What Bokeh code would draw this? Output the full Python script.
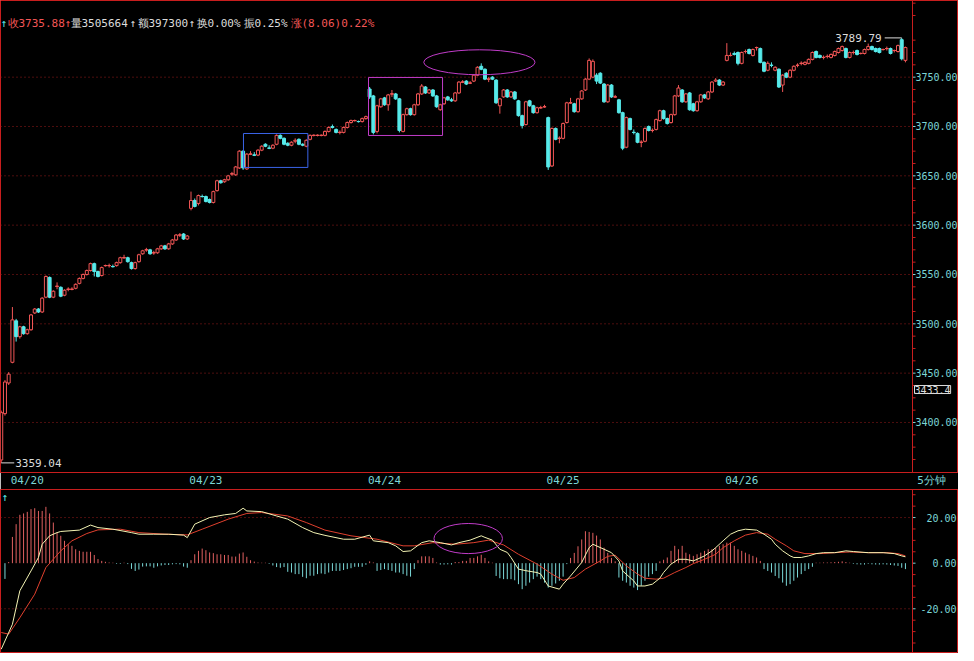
import numpy as np
from bokeh.plotting import figure
from bokeh.layouts import column
from bokeh.models import ColumnDataSource, Range1d, Span, Label, FixedTicker
from bokeh.embed import file_html
from bokeh.resources import INLINE
from bokeh.core.properties import value

# ------------------------------------------------------------------ data
opens = [
    3362, 3409, 3440, 3461, 3503, 3487, 3497, 3490, 3494, 3511,
    3515, 3512, 3527, 3547, 3527, 3538, 3537, 3529, 3535, 3535,
    3536, 3541, 3546, 3550, 3554, 3561, 3553, 3549, 3559, 3559,
    3558, 3559, 3562, 3567, 3567, 3562, 3556, 3563, 3571, 3575,
    3575, 3572, 3572, 3576, 3579, 3576, 3581, 3585, 3590, 3591, 3586,
    3617, 3625, 3622, 3629, 3629, 3626, 3623, 3635, 3645, 3644,
    3646, 3652, 3651, 3658, 3675, 3657, 3672, 3671, 3671, 3676,
    3682, 3678, 3678, 3682, 3691, 3688, 3683, 3681, 3685, 3687,
    3682, 3680, 3687, 3691, 3691, 3691, 3691, 3695, 3700, 3697,
    3694, 3694, 3699, 3704, 3706, 3705, 3705, 3708,
    3738, 3731, 3695, 3720, 3729, 3722, 3733, 3733, 3728, 3695,
    3712, 3718, 3712, 3722, 3733, 3740, 3734, 3737, 3731, 3717,
    3723, 3730, 3727, 3726, 3734, 3745, 3746, 3744, 3746, 3752,
    3761, 3758, 3748, 3750, 3747, 3721, 3730, 3737, 3730, 3735,
    3726, 3711, 3702, 3726, 3721, 3714, 3719, 3720,
    3709, 3660, 3698, 3688, 3688, 3704, 3724, 3723, 3715, 3728,
    3737, 3748, 3750, 3752, 3754, 3743, 3725, 3742, 3730, 3727,
    3714, 3679, 3708, 3694, 3693, 3684, 3685, 3700, 3696, 3697,
    3706, 3716, 3708, 3704, 3712, 3731, 3737, 3725, 3734, 3723,
    3716, 3725, 3732, 3728, 3735, 3746, 3747, 3742,
    3767, 3772, 3774, 3775, 3764, 3776, 3778, 3772, 3780, 3779,
    3765, 3757, 3762, 3757, 3758, 3742, 3754, 3750, 3757, 3762,
    3764, 3763, 3764, 3768, 3776, 3772, 3770, 3771, 3770, 3772,
    3775, 3777, 3779, 3770, 3775, 3777, 3774, 3774, 3778, 3781,
    3779, 3779, 3778, 3779, 3779, 3777, 3776, 3788, 3767,
]
highs = [
    3412, 3443, 3451, 3517, 3505, 3498, 3498, 3495, 3510, 3516,
    3516, 3527, 3549, 3548, 3534, 3542, 3538, 3535, 3537, 3537,
    3541, 3547, 3551, 3555, 3562, 3562, 3554, 3558, 3560, 3561,
    3560, 3563, 3568, 3570, 3568, 3563, 3563, 3571, 3575, 3577,
    3576, 3574, 3577, 3580, 3580, 3582, 3586, 3591, 3592, 3592, 3590,
    3634, 3627, 3631, 3631, 3630, 3627, 3635, 3646, 3646, 3647,
    3651, 3654, 3660, 3676, 3676, 3673, 3675, 3674, 3677, 3681,
    3683, 3681, 3682, 3692, 3692, 3689, 3684, 3685, 3688, 3688,
    3683, 3687, 3692, 3692, 3692, 3692, 3696, 3700, 3702, 3698,
    3696, 3700, 3705, 3707, 3707, 3706, 3709, 3711,
    3740, 3732, 3722, 3729, 3730, 3733, 3737, 3734, 3729, 3713,
    3719, 3719, 3723, 3734, 3743, 3741, 3738, 3738, 3732, 3723,
    3730, 3731, 3729, 3735, 3746, 3747, 3747, 3746, 3753, 3761,
    3764, 3759, 3750, 3751, 3748, 3729, 3738, 3738, 3736, 3736,
    3727, 3712, 3726, 3727, 3722, 3720, 3721, 3722,
    3710, 3699, 3699, 3690, 3704, 3725, 3729, 3724, 3729, 3737,
    3749, 3769, 3768, 3754, 3755, 3744, 3743, 3743, 3732, 3728,
    3715, 3710, 3709, 3697, 3694, 3686, 3699, 3701, 3698, 3708,
    3717, 3717, 3709, 3713, 3732, 3742, 3738, 3734, 3735, 3724,
    3726, 3733, 3733, 3736, 3746, 3749, 3748, 3746,
    3784.5, 3775, 3776, 3776, 3776, 3778, 3779, 3779, 3781, 3780,
    3766, 3766, 3765, 3761, 3759, 3753, 3755, 3758, 3762, 3764,
    3766, 3766, 3769, 3776, 3777, 3773, 3772, 3773, 3774, 3777,
    3780, 3782, 3780, 3776, 3777, 3778, 3775, 3779, 3784, 3782,
    3780, 3780, 3779, 3781, 3780, 3778, 3783, 3789.79, 3781,
]
lows = [
    3359.04, 3407, 3438, 3460, 3482, 3485, 3489, 3489, 3493, 3510,
    3511, 3511, 3526, 3526, 3526, 3535, 3527, 3528, 3533, 3534,
    3535, 3540, 3545, 3549, 3553, 3548, 3547, 3548, 3558, 3557,
    3557, 3558, 3561, 3566, 3562, 3555, 3555, 3562, 3570, 3573,
    3570, 3570, 3571, 3575, 3575, 3575, 3580, 3584, 3588, 3585, 3585,
    3615, 3618, 3620, 3628, 3623, 3622, 3622, 3634, 3642, 3643,
    3645, 3650, 3650, 3657, 3656, 3656, 3671, 3670, 3670, 3675,
    3679, 3677, 3677, 3681, 3687, 3681, 3680, 3680, 3683, 3681,
    3680, 3679, 3686, 3690, 3690, 3690, 3690, 3694, 3698, 3693,
    3692, 3693, 3698, 3703, 3705, 3704, 3704, 3707,
    3728, 3692, 3693, 3719, 3721, 3716, 3730, 3727, 3694, 3694,
    3711, 3711, 3711, 3721, 3732, 3733, 3733, 3730, 3719, 3716,
    3722, 3726, 3725, 3725, 3733, 3744, 3742, 3743, 3745, 3751,
    3757, 3747, 3745, 3747, 3723, 3713, 3729, 3729, 3729, 3727,
    3710, 3698, 3701, 3720, 3713, 3713, 3718, 3719,
    3656, 3659, 3686, 3683, 3687, 3703, 3723, 3714, 3714, 3727,
    3736, 3747, 3749, 3743, 3743, 3724, 3724, 3729, 3729, 3713,
    3676, 3678, 3696, 3692, 3683, 3679, 3684, 3695, 3694, 3696,
    3705, 3707, 3702, 3703, 3711, 3730, 3724, 3724, 3716, 3715,
    3715, 3724, 3728, 3727, 3734, 3745, 3741, 3741,
    3766, 3771, 3772, 3762, 3763, 3774, 3773, 3771, 3777, 3764,
    3755, 3756, 3760, 3756, 3739, 3735, 3749, 3749, 3756, 3760,
    3762, 3762, 3763, 3767, 3769, 3769, 3768, 3769, 3769, 3771,
    3774, 3776, 3769, 3769, 3773, 3772, 3773, 3773, 3777, 3777,
    3775, 3774, 3777, 3777, 3773, 3775, 3775, 3767, 3765,
]
closes = [
    3410, 3441, 3449, 3504, 3487, 3497, 3490, 3494, 3509, 3515,
    3512, 3526, 3548, 3527, 3533, 3538, 3528, 3534, 3535, 3535,
    3540, 3546, 3550, 3554, 3561, 3553, 3548, 3557, 3559, 3559,
    3558, 3562, 3567, 3567, 3563, 3556, 3562, 3570, 3574, 3575,
    3571, 3572, 3576, 3579, 3576, 3581, 3585, 3590, 3590, 3586, 3589,
    3625, 3619, 3630, 3629, 3624, 3623, 3634, 3645, 3643, 3646,
    3650, 3652, 3659, 3675, 3658, 3672, 3672, 3671, 3676, 3680,
    3680, 3678, 3681, 3691, 3688, 3682, 3681, 3684, 3686, 3682,
    3681, 3686, 3691, 3691, 3691, 3691, 3695, 3699, 3699, 3694,
    3694, 3699, 3704, 3706, 3706, 3705, 3708, 3710,
    3730, 3694, 3721, 3728, 3722, 3732, 3733, 3728, 3696, 3712,
    3718, 3712, 3722, 3733, 3741, 3734, 3737, 3731, 3720, 3722,
    3729, 3727, 3726, 3734, 3745, 3745, 3743, 3744, 3752, 3760,
    3758, 3748, 3748, 3748, 3724, 3728, 3737, 3730, 3735, 3728,
    3711, 3701, 3725, 3721, 3714, 3719, 3719, 3720,
    3659, 3698, 3687, 3688, 3703, 3724, 3724, 3715, 3728, 3736,
    3748, 3767, 3766, 3746, 3744, 3725, 3742, 3730, 3730, 3714,
    3678, 3709, 3697, 3694, 3684, 3684, 3698, 3696, 3696, 3707,
    3716, 3708, 3703, 3712, 3731, 3739, 3725, 3733, 3717, 3716,
    3725, 3732, 3729, 3735, 3745, 3747, 3742, 3745,
    3772, 3772, 3773, 3764, 3775, 3776, 3774, 3778, 3780, 3765,
    3756, 3764, 3762, 3760, 3740, 3752, 3750, 3757, 3761, 3762,
    3764, 3765, 3768, 3775, 3770, 3770, 3770, 3771, 3773, 3776,
    3779, 3781, 3770, 3775, 3775, 3773, 3774, 3778, 3781, 3778,
    3776, 3775, 3778, 3779, 3774, 3777, 3782, 3768.6, 3780,
]

# MACD histogram (one value per bar)
macd_hist = [
    0.0, -6.9, 0.5,
    11.5, 17.1, 21.2, 21.8, 22.5, 23.7, 24.1, 22.9, 22.9, 24.7, 21.8, 17.8, 13.4,
    12.0, 9.8, 8.3, 7.6, 6.1, 5.4, 5.0, 5.0, 5.0, 3.6, 1.8, 1.0, 0.6,
    0.3, 0.2, -0.3, -0.3, 0.2, -0.4,
    -2.5, -3.4, -2.8, -1.5, -1.4, -1.4, -2.0, -1.4, -1.0, -0.8, -0.8, -0.5, -0.4,
    -0.5, -1.5, -2.0,
    1.3, 3.9, 5.4, 6.4, 5.7, 4.7, 4.4, 3.9, 3.9, 3.6, 3.6, 2.9, 2.9, 4.2, 4.7, 2.8,
    1.3, 0.7,
    0.3, 0.2, 0.2, -0.3,
    -1.0, -1.7, -2.0, -1.7, -3.8, -4.1, -4.8, -4.8, -6.0, -6.6, -5.5, -5.5, -4.8, -4.5,
    -4.8, -4.1, -3.4, -3.4, -3.4, -3.0, -2.6, -2.2, -1.6, -1.6, -1.6, -0.7,
    0.8, 0.3, -3.4, -3.0, -2.6, -3.0, -3.4, -4.1, -4.1, -4.8, -5.5, -5.9, -2.6,
    1.3, 3.0, 3.0, 3.0, 2.3, 0.3, -0.6, -0.6, -0.5, -0.6, 0.5, 0.5, 1.0, 1.0, 2.3,
    2.3, 3.0, 3.7, 2.3, 0.8, 0.2,
    -5.6, -6.6, -7.0, -7.0, -7.0, -7.5, -9.2, -11.4, -9.9, -8.5, -7.0, -5.9, -7.0,
    -8.5, -10.7, -9.9, -8.9, -7.7, -5.9,
    -0.4, 2.3, 4.5, 7.4, 10.4, 14.0, 13.7, 13.3, 12.1, 10.4, 6.8, 4.5, 2.3, 0.8,
    -6.3, -7.7, -8.5, -9.9, -10.7, -11.8, -9.9, -7.7, -5.9, -4.8, -3.4,
    0.8, 1.5, 2.5, 5.4, 7.6, 6.1, 7.6, 4.6, 3.9, 3.2, 3.9, 4.6, 5.4, 6.1, 6.1, 6.8,
    7.6, 8.3, 9.0, 9.0, 7.6, 6.1, 5.4, 4.6, 3.9, 3.2, 2.5, 1.0,
    -2.6, -3.4, -4.1, -5.6, -6.6, -8.5, -9.9, -9.2, -7.7, -6.3, -4.8, -3.4, -2.6, -1.6,
    0.2, 0.2, 0.3, 0.3, 0.4, 0.5, 0.6, 0.8, 0.5, 0.2, -0.3, -0.5, -0.6, -0.6, -0.3,
    -0.5, -0.6, -0.6, -0.5, -0.6, -0.8, -1.0, -1.2, -2.0, -2.6,
]

# DIF line (bar index, value)
dif_bar = [0, 3, 5, 8, 10, 11, 13, 15, 16, 21, 24, 26, 30, 35, 37, 41, 45, 49, 50, 52,
           56, 60, 63, 65, 66, 70, 74, 77, 81, 84, 87, 92, 95, 99, 100, 104, 106, 108,
           110, 113, 115, 118, 121, 123, 126, 129, 130, 132, 134, 136, 137, 139, 141,
           144, 145, 147, 150, 151, 153, 156, 158, 159, 162, 164, 166, 167, 170, 171,
           173, 175, 177, 178, 180, 182, 184, 186, 187, 189, 191, 192, 194, 196, 198,
           200, 203, 205, 207, 208, 210, 212, 213, 215, 217, 219, 221, 224, 227, 229,
           233, 237, 240, 242, 243]
dif = [-37.7, -26.8, -12.1, -3.4, 2.5, 8.3, 12.0, 13.4, 13.9, 14.5, 16.7, 15.6, 14.9,
       13.4, 12.7, 12.7, 12.7, 12.3, 11.2, 17.1, 20.0, 21.2, 21.8, 24.1, 22.9, 22.6,
       20.7, 19.3, 15.6, 13.4, 12.2, 10.5, 10.5, 12.3, 9.8, 9.0, 7.6, 5.1, 5.4, 9.0,
       9.8, 9.0, 8.0, 9.0, 10.1, 12.0, 11.3, 10.1, 6.1, 4.7, 2.5, -2.6, -3.3, -4.1,
       -4.8, -10.0, -11.4, -9.2, -5.6, 0.3, 6.8, 8.3, 6.1, 4.6, 1.0, -3.4, -7.8, -10.0,
       -10.0, -9.2, -6.6, -4.1, -0.4, 1.7, 1.7, 1.0, 1.7, 3.2, 5.4, 6.8, 9.8, 12.7,
       14.2, 14.9, 14.5, 12.7, 10.5, 8.3, 5.4, 3.2, 2.5, 2.5, 3.2, 4.2, 4.6, 4.6, 5.4,
       5.1, 4.6, 4.6, 4.2, 3.2, 2.8]

# DEA line (bar index, value)
dea_bar = [0, 2, 5, 9, 12, 16, 19, 23, 26, 32, 37, 44, 50, 54, 61, 66, 70, 77, 82, 87,
           94, 101, 108, 111, 116, 122, 127, 131, 135, 139, 144, 148, 151, 154, 157,
           161, 163, 165, 168, 171, 173, 176, 178, 181, 184, 186, 189, 192, 194, 197,
           200, 203, 206, 208, 211, 213, 216, 220, 224, 228, 233, 238, 241, 243]
dea = [-30.4, -31.1, -23.9, -13.6, -1.9, 5.4, 9.8, 13.0, 14.6, 14.9, 13.4, 12.7, 12.4,
       14.9, 19.3, 21.8, 22.2, 20.7, 17.8, 14.5, 12.0, 10.5, 7.6, 7.6, 9.0, 8.3, 9.0,
       10.1, 8.0, 3.9, -0.4, -4.8, -7.5, -6.3, -2.6, 1.0, 3.0, 3.5, -1.2, -4.8, -6.6,
       -7.0, -6.6, -4.1, -1.9, -0.2, 1.7, 3.9, 6.8, 9.8, 12.3, 13.4, 12.7, 10.5, 7.6,
       5.4, 4.2, 4.2, 4.6, 4.9, 4.6, 4.6, 4.2, 3.2]

day_start = [3, 51, 99, 147, 195]
day_labels = ["04/20", "04/23", "04/24", "04/25", "04/26"]
period_label = "5分钟"

price_ticks = [3400, 3450, 3500, 3550, 3600, 3650, 3700, 3750]
price_tick_labels = ["3400.00", "3450.00", "3500.00", "3550.00",
                     "3600.00", "3650.00", "3700.00", "3750.00"]
macd_ticks = [20, 0, -20]
macd_tick_labels = ["20.00", "0.00", "-20.00"]

header_texts = ["↑", "收3735.88", "↑", "量3505664", "↑", "额397300", "↑",
                "换0.00%", "振0.25%", "涨(8.06)0.22%"]
cursor_price = 3433.4
cursor_text = "3433.4"

# ------------------------------------------------------------------ layout / style
W = 958
MAIN_H = 472
MACD_H = 164
X_START = -0.2
AXIS_X = 244.9                      # divider between plot and scale (bar units)
DIV_PX = 912                        # divider position in pixels
PXB = DIV_PX / (AXIS_X - X_START)   # pixels per bar
X_END = X_START + W / PXB
PRICE_LO, PRICE_HI = 3349.3, 3827.7
MACD_LO, MACD_HI = -39.6, 32.3

RED = "#f25656"
CYAN = "#56eaea"
FRAME = "#c81e1e"
GRID = "#9a1c1c"
LABEL = "#7cd6d6"
WHITE = "#dcdcdc"
DIF_C = "#f4f4b4"
DEA_C = "#e0402e"
HIST_R = "#e06060"
HIST_C = "#7ad8d8"
BLUE = "#3a64e8"
MAGENTA = "#c03cc8"
MONO = value("DejaVu Sans Mono")
SCALE_FS = "10px"

header_x = [0, 7, 64, 70, 129, 137, 188, 196, 243, 290]
header_col = [CYAN, RED, RED, WHITE, WHITE, WHITE, WHITE, WHITE, WHITE, RED]

x_range = Range1d(X_START, X_END)

# ------------------------------------------------------------------ main panel
p = figure(frame_width=W, frame_height=MAIN_H, x_range=x_range,
           y_range=Range1d(PRICE_LO, PRICE_HI), tools="", toolbar_location=None,
           output_backend="svg", y_axis_location=None, x_axis_location="below",
           background_fill_color="black", border_fill_color="black", min_border=0)
p.grid.visible = False
p.outline_line_color = FRAME

xa = p.xaxis[0]
tick_pos = [d + 4 for d in day_start] + [250]
xa.ticker = FixedTicker(ticks=tick_pos)
xa.major_label_overrides = {t: s for t, s in zip(tick_pos, day_labels + [period_label])}
xa.axis_line_color = FRAME
xa.major_tick_line_color = None
xa.minor_tick_line_color = None
xa.major_tick_out = 0
xa.major_tick_in = 0
xa.minor_tick_out = 0
xa.minor_tick_in = 0
xa.major_label_text_color = LABEL
xa.major_label_text_font = "DejaVu Sans Mono"
xa.major_label_text_font_size = "11px"
xa.major_label_standoff = 1

# grid lines + right-hand scale inside the frame
n = len(price_ticks)
p.segment(x0=[X_START] * n, x1=[AXIS_X] * n, y0=price_ticks, y1=price_ticks,
          line_color=GRID, line_dash="1 3", line_width=1)
minor_p = [v for v in np.arange(3350, PRICE_HI, 12.5) if v % 50 != 0]
p.segment(x0=[AXIS_X] * len(minor_p), x1=[AXIS_X + 3 / PXB] * len(minor_p),
          y0=minor_p, y1=minor_p, line_color=FRAME)
p.segment(x0=[AXIS_X] * n, x1=[AXIS_X + 3 / PXB] * n, y0=price_ticks, y1=price_ticks,
          line_color=LABEL)
p.text(x=[AXIS_X] * n, y=price_ticks, text=price_tick_labels, x_offset=3,
       text_align="left", text_baseline="middle", text_font=MONO,
       text_font_size=SCALE_FS, text_color=LABEL)
p.add_layout(Span(location=AXIS_X, dimension="height", line_color=FRAME, line_width=1))

# candles
idx = list(range(len(closes)))
up = []
for i in idx:
    if closes[i] > opens[i]:
        up.append(True)
    elif closes[i] < opens[i]:
        up.append(False)
    else:
        up.append(i == 0 or closes[i] >= closes[i - 1])
src = ColumnDataSource(dict(
    x=idx, h=highs, l=lows,
    top=[max(a, b) for a, b in zip(opens, closes)],
    bot=[min(a, b) for a, b in zip(opens, closes)],
    col=[RED if u else CYAN for u in up],
    fill=["black" if u else CYAN for u in up],
))
p.segment(x0="x", y0="l", x1="x", y1="h", line_color="col", source=src)
p.vbar(x="x", width=0.8, top="top", bottom="bot", fill_color="fill",
       line_color="col", source=src)
doji = [i for i in idx if opens[i] == closes[i]]
p.segment(x0=[i - 0.45 for i in doji], x1=[i + 0.45 for i in doji],
          y0=[closes[i] for i in doji], y1=[closes[i] for i in doji],
          line_color=[RED if up[i] else CYAN for i in doji])

# max / min markers
imax = int(np.argmax(highs))
imin = int(np.argmin(lows))
L_HI = 17 / PXB
L_LO = 13 / PXB
p.segment(x0=[imax - L_HI], x1=[imax], y0=[highs[imax]], y1=[highs[imax]], line_color=WHITE)
p.text(x=[imax - L_HI], y=[highs[imax]], text=["%.2f" % highs[imax]], x_offset=-3,
       text_align="right", text_baseline="middle", text_font=MONO,
       text_font_size="11px", text_color=WHITE)
p.segment(x0=[imin], x1=[imin + L_LO], y0=[lows[imin]], y1=[lows[imin]], line_color=WHITE)
p.text(x=[imin + L_LO], y=[lows[imin]], text=["%.2f" % lows[imin]], x_offset=1,
       text_align="left", text_baseline="middle", text_font=MONO,
       text_font_size="11px", text_color=WHITE)

# hand-drawn marks
p.quad(left=[65.1], right=[82.4], top=[3692.9], bottom=[3658.5],
       fill_color=None, line_color=BLUE, line_width=1)
p.quad(left=[98.7], right=[118.6], top=[3749.7], bottom=[3690.9],
       fill_color=None, line_color=MAGENTA, line_width=1)
p.ellipse(x=[128.5], y=[3765.1], width=29.9, height=25.3,
          fill_color=None, line_color=MAGENTA, line_width=1)

# cursor price box
p.add_layout(Label(x=AXIS_X, y=cursor_price, text=cursor_text, x_offset=2,
                   text_baseline="middle", text_color=WHITE,
                   text_font="DejaVu Sans Mono", text_font_size=SCALE_FS,
                   border_line_color=WHITE, background_fill_color="black"))

# header line
for hx, ht, hc in zip(header_x, header_texts, header_col):
    p.add_layout(Label(x=hx, y=MAIN_H - 23, x_units="screen", y_units="screen",
                       text=ht, text_color=hc, text_baseline="middle",
                       text_font="DejaVu Sans Mono", text_font_size="11px"))

# ------------------------------------------------------------------ MACD panel
q = figure(frame_width=W, frame_height=MACD_H, x_range=x_range,
           y_range=Range1d(MACD_LO, MACD_HI), tools="", toolbar_location=None,
           output_backend="svg", x_axis_location=None, y_axis_location=None,
           background_fill_color="black", border_fill_color="black", min_border=0)
q.grid.visible = False
q.outline_line_color = FRAME

grid_m = [t for t in macd_ticks if t != 0]
q.segment(x0=[X_START] * len(grid_m), x1=[AXIS_X] * len(grid_m), y0=grid_m, y1=grid_m,
          line_color=GRID, line_dash="1 3")
minor_m = [v for v in np.arange(-35, MACD_HI, 5) if v % 20 != 0]
q.segment(x0=[AXIS_X] * len(minor_m), x1=[AXIS_X + 3 / PXB] * len(minor_m),
          y0=minor_m, y1=minor_m, line_color=FRAME)
m = len(macd_ticks)
q.segment(x0=[AXIS_X] * m, x1=[AXIS_X + 3 / PXB] * m, y0=macd_ticks, y1=macd_ticks,
          line_color=LABEL)
q.text(x=[X_END - 2 / PXB] * m, y=macd_ticks, text=macd_tick_labels, x_offset=0,
       text_align="right", text_baseline="middle", text_font=MONO,
       text_font_size=SCALE_FS, text_color=LABEL)
q.add_layout(Span(location=AXIS_X, dimension="height", line_color=FRAME, line_width=1))

hsrc = ColumnDataSource(dict(
    x=list(range(len(macd_hist))), h=macd_hist,
    col=[HIST_R if v >= 0 else HIST_C for v in macd_hist],
))
q.segment(x0="x", y0=0, x1="x", y1="h", line_color="col", line_width=1, source=hsrc)
q.line(dea_bar, dea, line_color=DEA_C, line_width=1)
q.line(dif_bar, dif, line_color=DIF_C, line_width=1)
q.ellipse(x=[125.5], y=[10.8], width=18.4, height=13.2,
          fill_color=None, line_color=MAGENTA, line_width=1)
q.add_layout(Label(x=1, y=MACD_H - 8, x_units="screen", y_units="screen", text="↑",
                   text_color=CYAN, text_baseline="middle",
                   text_font="DejaVu Sans Mono", text_font_size="11px"))

layout = column(p, q, spacing=0)
open("out.html", "w", encoding="utf-8").write(file_html(layout, INLINE, title="chart"))
